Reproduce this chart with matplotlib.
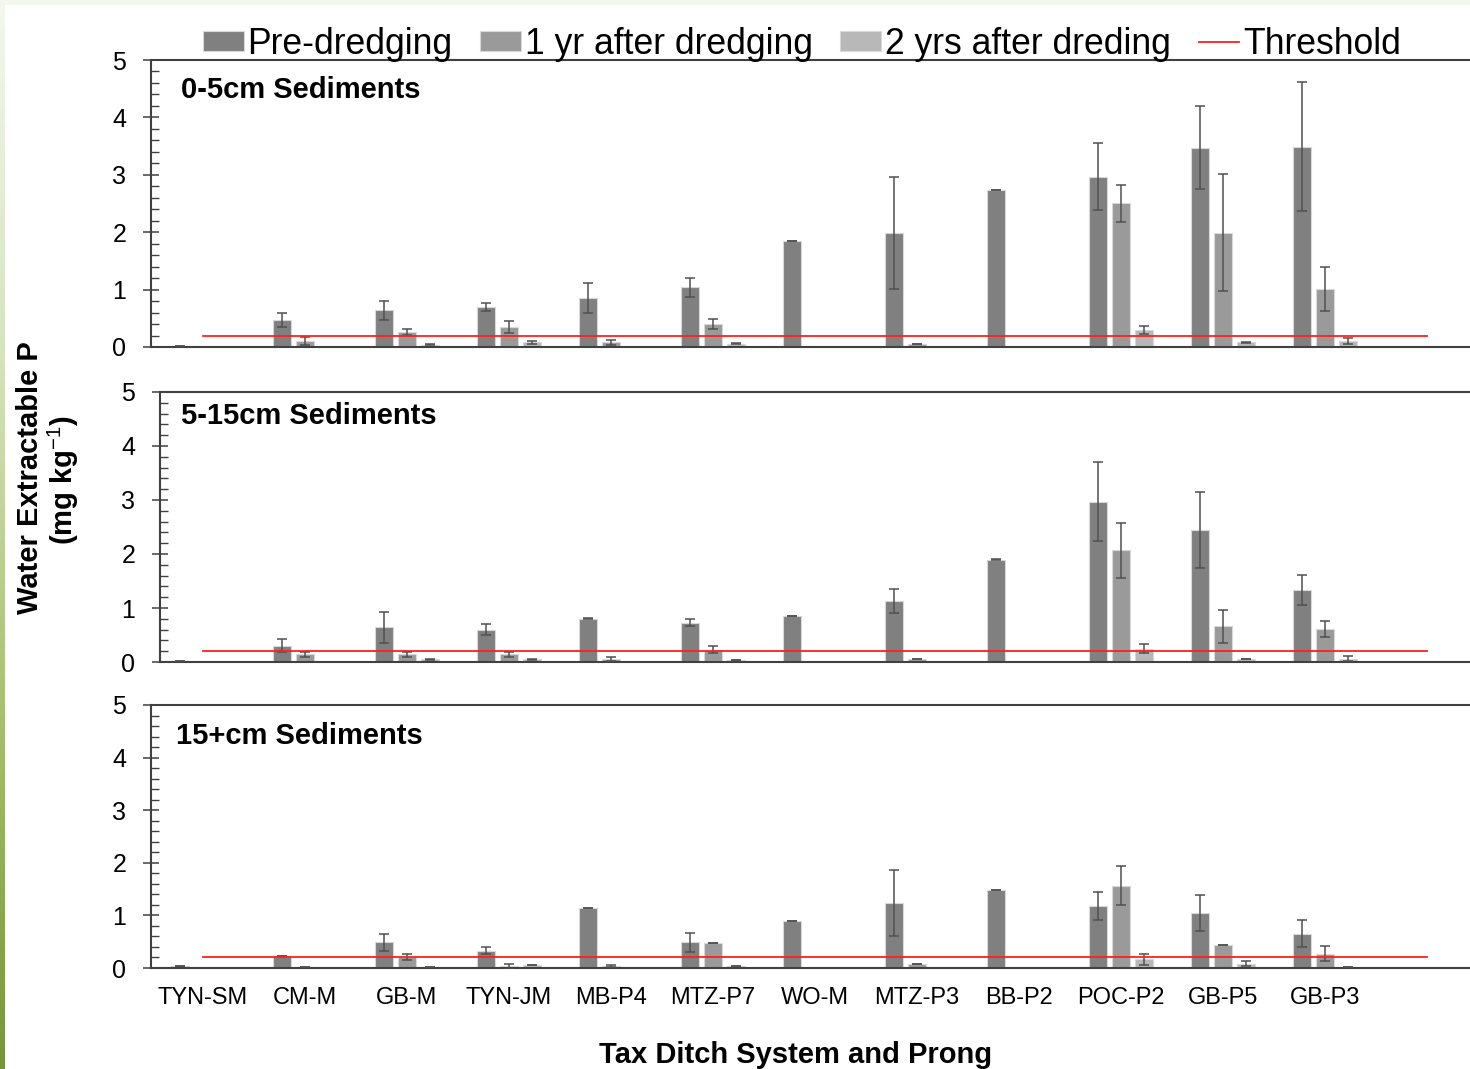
import numpy as np
import matplotlib.pyplot as plt
from matplotlib.ticker import MultipleLocator
from matplotlib.colors import LinearSegmentedColormap

plt.rcParams['font.family'] = ['Liberation Sans', 'DejaVu Sans']
plt.rcParams['mathtext.fontset'] = 'custom'
plt.rcParams['mathtext.rm'] = 'Liberation Sans'
plt.rcParams['mathtext.bf'] = 'Liberation Sans:bold'

nan = np.nan

sites = ['TYN-SM', 'CM-M', 'GB-M', 'TYN-JM', 'MB-P4', 'MTZ-P7', 'WO-M',
         'MTZ-P3', 'BB-P2', 'POC-P2', 'GB-P5', 'GB-P3']
series_names = ['Pre-dredging', '1 yr after dredging', '2 yrs after dreding']
depth_labels = ['0-5cm Sediments', '5-15cm Sediments', '15+cm Sediments']
threshold = 0.2

# 0-5 cm
pre_0_5 = [0.02, 0.47, 0.64, 0.69, 0.86, 1.04, 1.85, 1.99, 2.74, 2.97, 3.47, 3.49]
pre_0_5_err = [0, 0.12, 0.17, 0.07, 0.26, 0.17, 0, 0.98, 0, 0.58, 0.72, 1.12]
yr1_0_5 = [nan, 0.11, 0.26, 0.35, 0.08, 0.40, nan, 0.05, nan, 2.50, 1.99, 1.01]
yr1_0_5_err = [0, 0.07, 0.05, 0.11, 0.04, 0.09, 0, 0, 0, 0.32, 1.02, 0.39]
yr2_0_5 = [nan, nan, 0.04, 0.08, nan, 0.06, nan, nan, nan, 0.30, 0.08, 0.10]
yr2_0_5_err = [0, 0, 0.01, 0.03, 0, 0.01, 0, 0, 0, 0.07, 0.01, 0.05]

# 5-15 cm
pre_5_15 = [0.01, 0.30, 0.64, 0.60, 0.80, 0.73, 0.86, 1.13, 1.89, 2.97, 2.45, 1.34]
pre_5_15_err = [0, 0.12, 0.28, 0.10, 0.01, 0.06, 0, 0.22, 0.01, 0.73, 0.70, 0.28]
yr1_5_15 = [nan, 0.14, 0.14, 0.14, 0.06, 0.23, nan, 0.05, nan, 2.07, 0.66, 0.61]
yr1_5_15_err = [0, 0.05, 0.05, 0.05, 0.04, 0.06, 0, 0, 0, 0.51, 0.31, 0.15]
yr2_5_15 = [nan, nan, 0.05, 0.05, nan, 0.04, nan, nan, nan, 0.25, 0.055, 0.06]
yr2_5_15_err = [0, 0, 0.01, 0.01, 0, 0.005, 0, 0, 0, 0.09, 0.005, 0.05]

# 15+ cm
pre_15 = [0.03, 0.22, 0.49, 0.33, 1.15, 0.49, 0.89, 1.24, 1.48, 1.18, 1.05, 0.65]
pre_15_err = [0, 0, 0.16, 0.07, 0, 0.18, 0, 0.63, 0, 0.26, 0.34, 0.26]
yr1_15 = [nan, 0.025, 0.21, 0.03, 0.03, 0.475, nan, 0.08, nan, 1.56, 0.43, 0.27]
yr1_15_err = [0, 0, 0.06, 0.05, 0.02, 0, 0, 0, 0, 0.37, 0, 0.14]
yr2_15 = [nan, nan, 0.025, 0.05, nan, 0.03, nan, nan, nan, 0.165, 0.08, 0.025]
yr2_15_err = [0, 0, 0, 0, 0, 0, 0, 0, 0, 0.10, 0.05, 0]

panels = [
    [(pre_0_5, pre_0_5_err), (yr1_0_5, yr1_0_5_err), (yr2_0_5, yr2_0_5_err)],
    [(pre_5_15, pre_5_15_err), (yr1_5_15, yr1_5_15_err), (yr2_5_15, yr2_5_15_err)],
    [(pre_15, pre_15_err), (yr1_15, yr1_15_err), (yr2_15, yr2_15_err)],
]

bar_colors = ['#808080', '#9a9a9a', '#b8b8b8']
spine_col = '#404040'

W, H = 1470, 1069
fig = plt.figure(figsize=(W / 100, H / 100), dpi=100, facecolor='white')

# slide frame: pale band on top, green gradient on the left
top = fig.add_axes([0, 1 - 5 / H, 1, 5 / H])
top.set_axis_off()
top.add_patch(plt.Rectangle((0, 0), 1, 1, color='#f4f7ee', transform=top.transAxes))
side = fig.add_axes([0, 0, 5 / W, 1])
grad = np.linspace(0, 1, 256)[:, None]
cm = LinearSegmentedColormap.from_list('side', ['#f4f7ee', '#d6e3bd', '#a8c070', '#76963a'])
side.imshow(grad, aspect='auto', cmap=cm, extent=[0, 1, 0, 1], origin='upper')
side.set_axis_off()

# axes boxes in pixels: left, y of zero, y of 5
boxes = [(151, 347, 60), (160, 662, 392), (151, 968, 705)]
label_pos = [(181, 90), (181, 416), (176, 736)]

x = np.arange(len(sites))
bw = 0.176
offs = [-0.225, 0.0, 0.225]
px_per_unit = 102.0
x0_px = 203.0

axes = []
for p, (left, zero, five) in enumerate(boxes):
    ax = fig.add_axes([left / W, 1 - zero / H, (W - left) / W, (zero - five) / H])
    axes.append(ax)
    for s, (vals, errs) in enumerate(panels[p]):
        v = np.array(vals, dtype=float)
        e = np.array(errs, dtype=float)
        m = ~np.isnan(v)
        ax.bar(x[m] + offs[s], v[m], width=bw, color=bar_colors[s],
               edgecolor='#d8d8d8', linewidth=0.8, zorder=2,
               label=series_names[s] if p == 0 else None)
        ax.errorbar(x[m] + offs[s], v[m], yerr=e[m], fmt='none',
                    ecolor='#505050', elinewidth=1.1, capsize=3.6,
                    capthick=1.1, zorder=3)
    ax.plot([0, len(sites)], [threshold, threshold], color='#ff2020',
            lw=1.3, zorder=4, label='Threshold' if p == 0 else None)

    ax.set_ylim(0, 5)
    ax.set_xlim((left - x0_px) / px_per_unit, (W - x0_px) / px_per_unit)
    ax.yaxis.set_major_locator(MultipleLocator(1))
    ax.yaxis.set_minor_locator(MultipleLocator(0.2))
    ax.tick_params(axis='y', which='major', direction='inout', length=11.5,
                   width=1.1, color=spine_col, labelsize=18, pad=12)
    ax.tick_params(axis='y', which='minor', direction='in', length=5.5,
                   width=1.0, color=spine_col)
    ax.tick_params(axis='x', length=0, labelsize=17, pad=14)
    ax.set_xticks(x)
    if p == 2:
        ax.set_xticklabels(sites)
    else:
        ax.set_xticklabels([])
    ax.spines['right'].set_visible(False)
    for sp in ['left', 'top', 'bottom']:
        ax.spines[sp].set_color(spine_col)
        ax.spines[sp].set_linewidth(1.5)
    ax.set_facecolor('none')

    lx, ly = label_pos[p]
    fig.text(lx / W, 1 - ly / H, depth_labels[p], fontsize=21,
             fontweight='bold', ha='left', va='center')

handles, labels = axes[0].get_legend_handles_labels()
order = [labels.index(n) for n in series_names + ['Threshold']]
leg = fig.legend([handles[i] for i in order], [labels[i] for i in order],
                 loc='center left', ncol=4, frameon=False,
                 fontsize=25.6, bbox_to_anchor=(203 / W, 1 - 44 / H),
                 handlelength=1.15, handleheight=0.48, handletextpad=0.1,
                 columnspacing=0.78, borderaxespad=0, borderpad=0)

fig.text(30 / W, 1 - 478 / H, 'Water Extractable P', rotation=90,
         fontsize=21, fontweight='bold', ha='center', va='center')
fig.text(63 / W, 1 - 480 / H, r'(mg kg$^{-1}$)', rotation=90,
         fontsize=21, fontweight='bold', ha='center', va='center')
fig.text(796 / W, 1 - 1055 / H, 'Tax Ditch System and Prong',
         fontsize=21, fontweight='bold', ha='center', va='center')

fig.savefig('out.png', dpi=100, facecolor='white')
